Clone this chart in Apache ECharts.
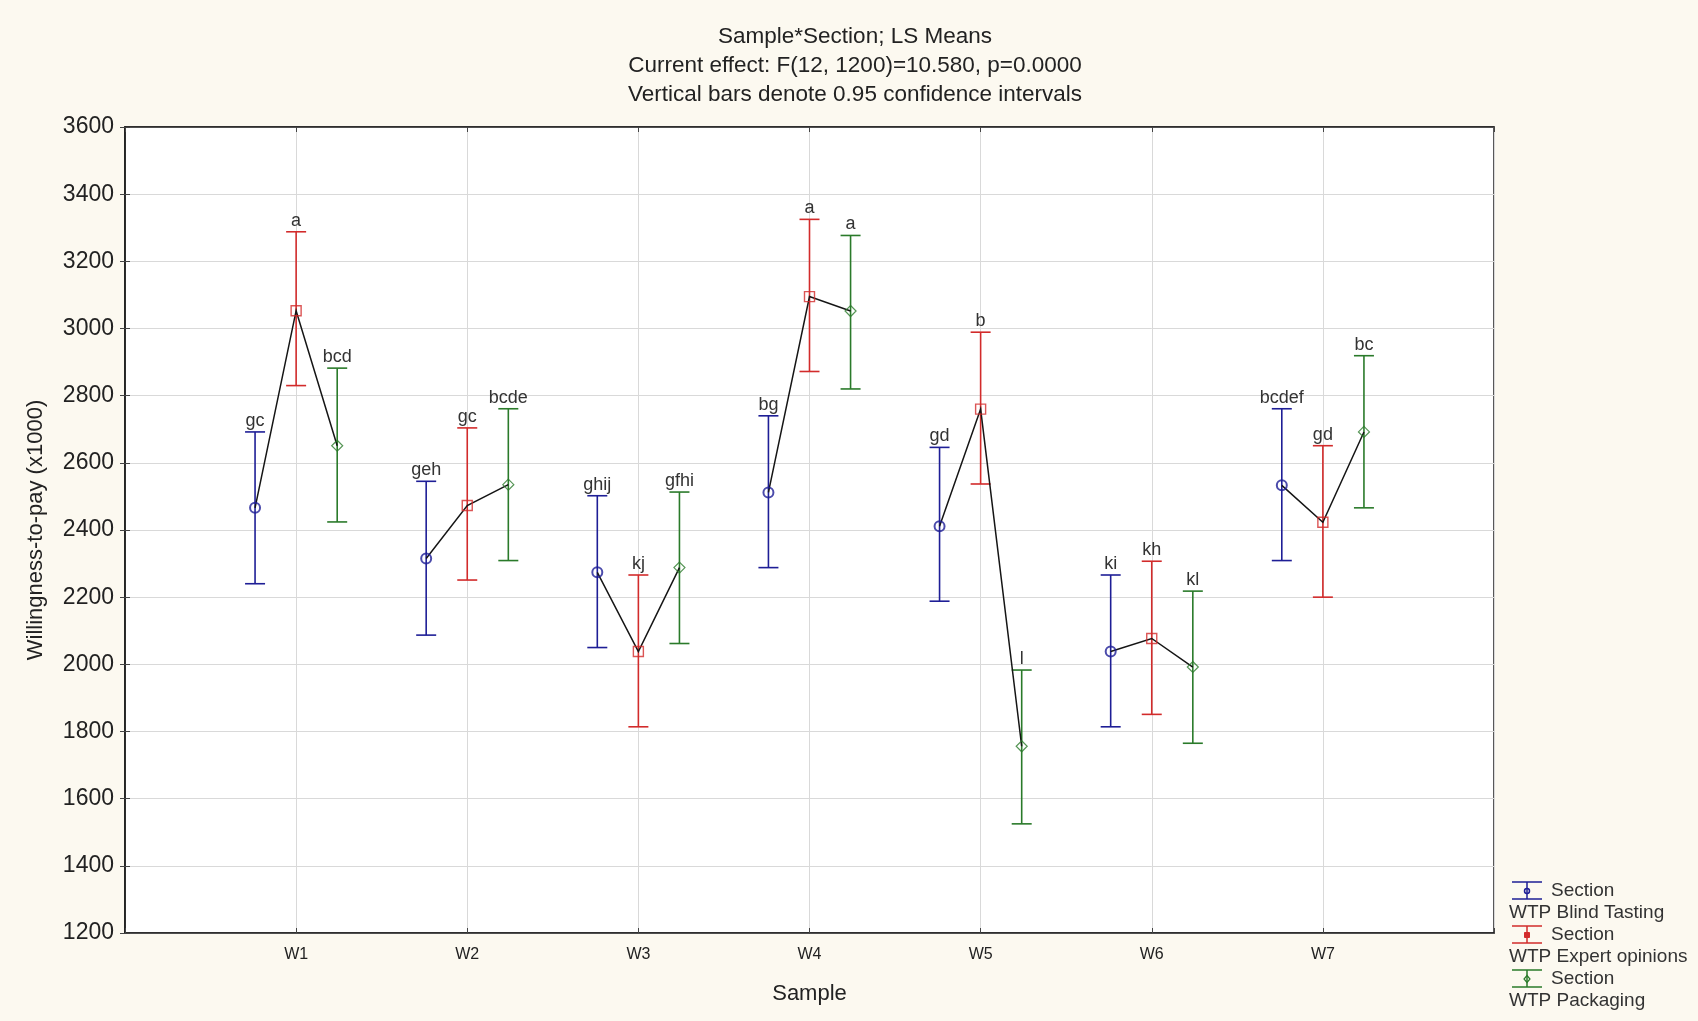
<!DOCTYPE html>
<html>
<head>
<meta charset="utf-8">
<script src="https://cdn.jsdelivr.net/npm/echarts@6/dist/echarts.min.js"></script>
<style>
html,body{margin:0;padding:0;background:#fcf9f0;}
#chart{width:1698px;height:1021px;}
</style>
</head>
<body>
<div id="chart"></div>
<script>
const samples = ['W1','W2','W3','W4','W5','W6','W7'];
const yTicks = [1200,1400,1600,1800,2000,2200,2400,2600,2800,3000,3200,3400,3600];

const blindMean = [2466, 2315, 2274, 2512, 2411, 2038, 2533];
const blindLow  = [2240, 2087, 2050, 2288, 2188, 1814, 2309];
const blindHigh = [2692, 2545, 2502, 2740, 2646, 2266, 2761];
const blindLetters = ['gc','geh','ghij','bg','gd','ki','bcdef'];

const expertMean = [3053, 2473, 2038, 3095, 2760, 2077, 2423];
const expertLow  = [2830, 2251, 1814, 2872, 2537, 1851, 2200];
const expertHigh = [3288, 2704, 2266, 3325, 2989, 2307, 2651];
const expertLetters = ['a','gc','kj','a','b','kh','gd'];

const packMean = [2651, 2535, 2288, 3052, 1756, 1992, 2692];
const packLow  = [2424, 2309, 2062, 2820, 1525, 1765, 2466];
const packHigh = [2882, 2761, 2513, 3277, 1983, 2218, 2919];
const packLetters = ['bcd','bcde','gfhi','a','l','kl','bc'];

const titleLines = ['Sample*Section; LS Means','Current effect: F(12, 1200)=10.580, p=0.0000','Vertical bars denote 0.95 confidence intervals'];
const legendNames = ['WTP Blind Tasting','WTP Expert opinions','WTP Packaging'];

const BLUE = '#1e1e96', RED = '#d22b2b', GREEN = '#2a7a2a';
const OFF = 0.24;
const FONT = 'Arial, "Liberation Sans", sans-serif';

function barRender(color, letters) {
  return function (params, api) {
    const x = api.value(0), lo = api.value(1), hi = api.value(2);
    const pLo = api.coord([x, lo]);
    const pHi = api.coord([x, hi]);
    const cw = 10;
    const ls = {stroke: color, lineWidth: 1.6};
    return {
      type: 'group',
      children: [
        {type: 'line', shape: {x1: pHi[0], y1: pHi[1], x2: pLo[0], y2: pLo[1]}, style: ls},
        {type: 'line', shape: {x1: pHi[0]-cw, y1: pHi[1], x2: pHi[0]+cw, y2: pHi[1]}, style: ls},
        {type: 'line', shape: {x1: pLo[0]-cw, y1: pLo[1], x2: pLo[0]+cw, y2: pLo[1]}, style: ls},
        {type: 'text', x: pHi[0], y: pHi[1]-11,
          style: {text: letters[params.dataIndex], fill: '#333', font: '18px ' + FONT, align: 'center', verticalAlign: 'middle'}}
      ]
    };
  };
}

function barData(lo, hi, off) {
  return samples.map((s, i) => [i + 1 + off, lo[i], hi[i]]);
}
function markData(mean, off) {
  return samples.map((s, i) => [i + 1 + off, mean[i]]);
}

const lineData = samples.map((s, i) => [i + 1, blindMean[i], expertMean[i], packMean[i]]);

const graphics = [];
graphics.push({
  type: 'text', x: 855, y: 22, z: 10,
  style: {text: titleLines.join('\n'), fill: '#222', font: '22.5px ' + FONT, align: 'center', verticalAlign: 'top', lineHeight: 29}
});
const legColors = [BLUE, RED, GREEN];
const legSym = ['circle', 'rect', 'diamond'];
legendNames.forEach((name, i) => {
  const y0 = 882 + i * 44;
  const c = legColors[i];
  const ls = {stroke: c, lineWidth: 1.5};
  graphics.push({type: 'line', shape: {x1: 1512, y1: y0, x2: 1542, y2: y0}, style: ls});
  graphics.push({type: 'line', shape: {x1: 1512, y1: y0+17, x2: 1542, y2: y0+17}, style: ls});
  graphics.push({type: 'line', shape: {x1: 1527, y1: y0, x2: 1527, y2: y0+17}, style: ls});
  if (legSym[i] === 'circle') {
    graphics.push({type: 'circle', shape: {cx: 1527, cy: y0+9, r: 2.5}, style: {fill: 'none', stroke: c, lineWidth: 1.5}});
  } else if (legSym[i] === 'rect') {
    graphics.push({type: 'rect', shape: {x: 1524.5, y: y0+6.5, width: 5, height: 5}, style: {fill: c, stroke: c, lineWidth: 1}});
  } else {
    graphics.push({type: 'polygon', shape: {points: [[1527, y0+5.5],[1530, y0+9],[1527, y0+12.5],[1524, y0+9]]}, style: {fill: 'none', stroke: c, lineWidth: 1.2}});
  }
  graphics.push({type: 'text', x: 1551, y: y0+9, style: {text: 'Section', fill: '#333', font: '19px ' + FONT, verticalAlign: 'middle'}});
  graphics.push({type: 'text', x: 1509, y: y0+31, style: {text: name, fill: '#333', font: '19px ' + FONT, verticalAlign: 'middle'}});
});

const chart = echarts.init(document.getElementById('chart'), null, {renderer: 'canvas'});
chart.setOption({
  backgroundColor: '#fcf9f0',
  animation: false,
  grid: {left: 125, right: 204, top: 127, bottom: 88, show: true, backgroundColor: '#ffffff', borderColor: '#222', borderWidth: 1.5},
  xAxis: [{
    type: 'value', min: 0, max: 8, interval: 1, position: 'bottom',
    name: 'Sample', nameLocation: 'middle', nameGap: 50,
    nameTextStyle: {fontSize: 22, color: '#222', fontFamily: FONT},
    axisLine: {show: true, lineStyle: {color: '#222', width: 1.5}},
    axisTick: {show: true, inside: true, length: 5, lineStyle: {color: '#444'}},
    axisLabel: {fontSize: 16, color: '#222', fontFamily: FONT, margin: 14,
      formatter: v => (v >= 1 && v <= 7) ? samples[v - 1] : ''},
    splitLine: {show: true, lineStyle: {color: '#d9d9d9', width: 1}}
  }, {
    type: 'value', min: 0, max: 8, interval: 1, position: 'top',
    axisLine: {show: true, lineStyle: {color: '#222', width: 1.5}},
    axisTick: {show: true, inside: true, length: 5, lineStyle: {color: '#444'}},
    axisLabel: {show: false}, splitLine: {show: false}
  }],
  yAxis: [{
    type: 'value', min: yTicks[0], max: yTicks[yTicks.length - 1], interval: 200, position: 'left',
    name: 'Willingness-to-pay (x1000)', nameLocation: 'middle', nameGap: 78, nameRotate: 90,
    nameTextStyle: {fontSize: 22, color: '#222', fontFamily: FONT},
    axisLine: {show: true, lineStyle: {color: '#222', width: 1.5}},
    axisTick: {show: true, inside: true, length: 5, lineStyle: {color: '#444'}},
    axisLabel: {fontSize: 23, color: '#222', fontFamily: FONT, margin: 11, formatter: v => String(v)},
    splitLine: {show: true, lineStyle: {color: '#d9d9d9', width: 1}}
  }, {
    type: 'value', min: yTicks[0], max: yTicks[yTicks.length - 1], interval: 200, position: 'right',
    axisLine: {show: true, lineStyle: {color: '#222', width: 1.5}},
    axisTick: {show: true, inside: true, length: 5, lineStyle: {color: '#444'}},
    axisLabel: {show: false}, splitLine: {show: false}
  }],
  series: [
    {type: 'custom', name: 'Blind', renderItem: barRender(BLUE, blindLetters), data: barData(blindLow, blindHigh, -OFF), encode: {x: 0, y: [1, 2]}, z: 2},
    {type: 'custom', name: 'Expert', renderItem: barRender(RED, expertLetters), data: barData(expertLow, expertHigh, 0), encode: {x: 0, y: [1, 2]}, z: 2},
    {type: 'custom', name: 'Pack', renderItem: barRender(GREEN, packLetters), data: barData(packLow, packHigh, OFF), encode: {x: 0, y: [1, 2]}, z: 2},
    {type: 'custom', name: 'means', z: 3,
      renderItem: function (params, api) {
        const x = api.value(0);
        const pts = [api.coord([x - OFF, api.value(1)]), api.coord([x, api.value(2)]), api.coord([x + OFF, api.value(3)])];
        return {type: 'polyline', shape: {points: pts}, style: {stroke: '#151515', lineWidth: 1.5, fill: 'none'}};
      },
      data: lineData, encode: {x: 0, y: [1, 2, 3]}},
    {type: 'scatter', z: 4, symbol: 'circle', symbolSize: 10, data: markData(blindMean, -OFF),
      itemStyle: {color: 'rgba(255,255,255,0)', borderColor: BLUE, borderWidth: 2}},
    {type: 'scatter', z: 4, symbol: 'rect', symbolSize: 10, data: markData(expertMean, 0),
      itemStyle: {color: 'rgba(255,255,255,0)', borderColor: RED, borderWidth: 1.4}},
    {type: 'scatter', z: 4, symbol: 'diamond', symbolSize: [11, 11], data: markData(packMean, OFF),
      itemStyle: {color: 'rgba(255,255,255,0)', borderColor: GREEN, borderWidth: 1.2}}
  ],
  graphic: graphics
});
</script>
</body>
</html>
